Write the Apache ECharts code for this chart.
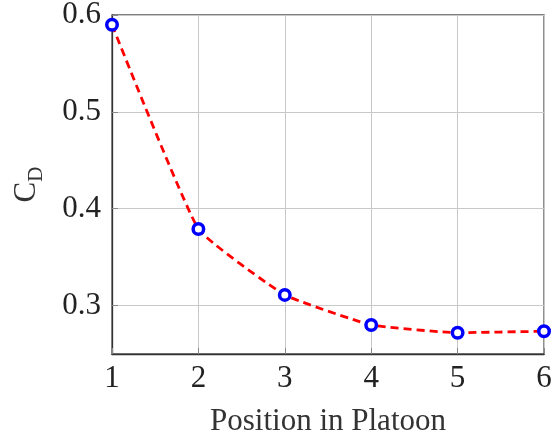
<!DOCTYPE html>
<html><head><meta charset="utf-8">
<script src="https://cdn.jsdelivr.net/npm/echarts@6/dist/echarts.min.js"></script>
<style>html,body{margin:0;padding:0;background:#fff}#c{width:552px;height:438px}</style>
</head><body><div id="c"></div>
<script>
const positions = [1, 2, 3, 4, 5, 6];
const cdValues = [0.59, 0.379, 0.311, 0.28, 0.272, 0.2735];
const yTicks = [0.3, 0.4, 0.5, 0.6];
const xTitle = 'Position in Platoon';
const font = 'Liberation Serif';
const chart = echarts.init(document.getElementById('c'), null, {renderer: 'canvas'});
const data = positions.map((p, i) => [p, cdValues[i]]);
chart.setOption({
  animation: false,
  grid: {left: 112, right: 8, top: 15, bottom: 84, containLabel: false, outerBoundsMode: 'none',
    show: true, borderColor: '#555', borderWidth: 1.3},
  xAxis: {
    type: 'value', min: 1, max: 6, interval: 1,
    axisLine: {show: true, lineStyle: {color: '#333', width: 1.3}},
    axisTick: {show: true, inside: true, length: 6, lineStyle: {color: '#888'}},
    splitLine: {show: true, lineStyle: {color: '#c8c8c8', width: 1}},
    axisLabel: {fontFamily: font, fontSize: 31, color: '#222', margin: 9},
    name: xTitle, nameLocation: 'middle', nameGap: 52,
    nameTextStyle: {fontFamily: font, fontSize: 31, color: '#333'}
  },
  yAxis: {
    type: 'value', min: 0.25, max: 0.6,
    axisLine: {show: true, lineStyle: {color: '#333', width: 1.3}},
    axisLabel: {fontFamily: font, fontSize: 31, color: '#222', margin: 11,
      customValues: yTicks, formatter: v => v.toFixed(1)},
    axisTick: {show: true, inside: true, length: 6, customValues: yTicks, lineStyle: {color: '#888'}},
    splitLine: {show: true, lineStyle: {color: '#c8c8c8', width: 1}},
    name: '{c|C}{d|D}', nameLocation: 'middle', nameGap: 65, nameRotate: 90,
    nameTextStyle: {
      rich: {
        c: {fontFamily: font, fontSize: 31, color: '#333', lineHeight: 40, verticalAlign: 'middle'},
        d: {fontFamily: font, fontSize: 21, color: '#333', lineHeight: 40, verticalAlign: 'bottom', padding: [14, 0, 0, 0]}
      }
    }
  },
  series: [{
    type: 'line', data: data, smooth: 0.12,
    lineStyle: {color: '#ff0000', width: 2.8, type: [8, 5]},
    symbol: 'circle', symbolSize: 10.5,
    itemStyle: {color: '#ffffff', borderColor: '#0000ff', borderWidth: 3.5},
    z: 3
  }]
});
</script></body></html>
